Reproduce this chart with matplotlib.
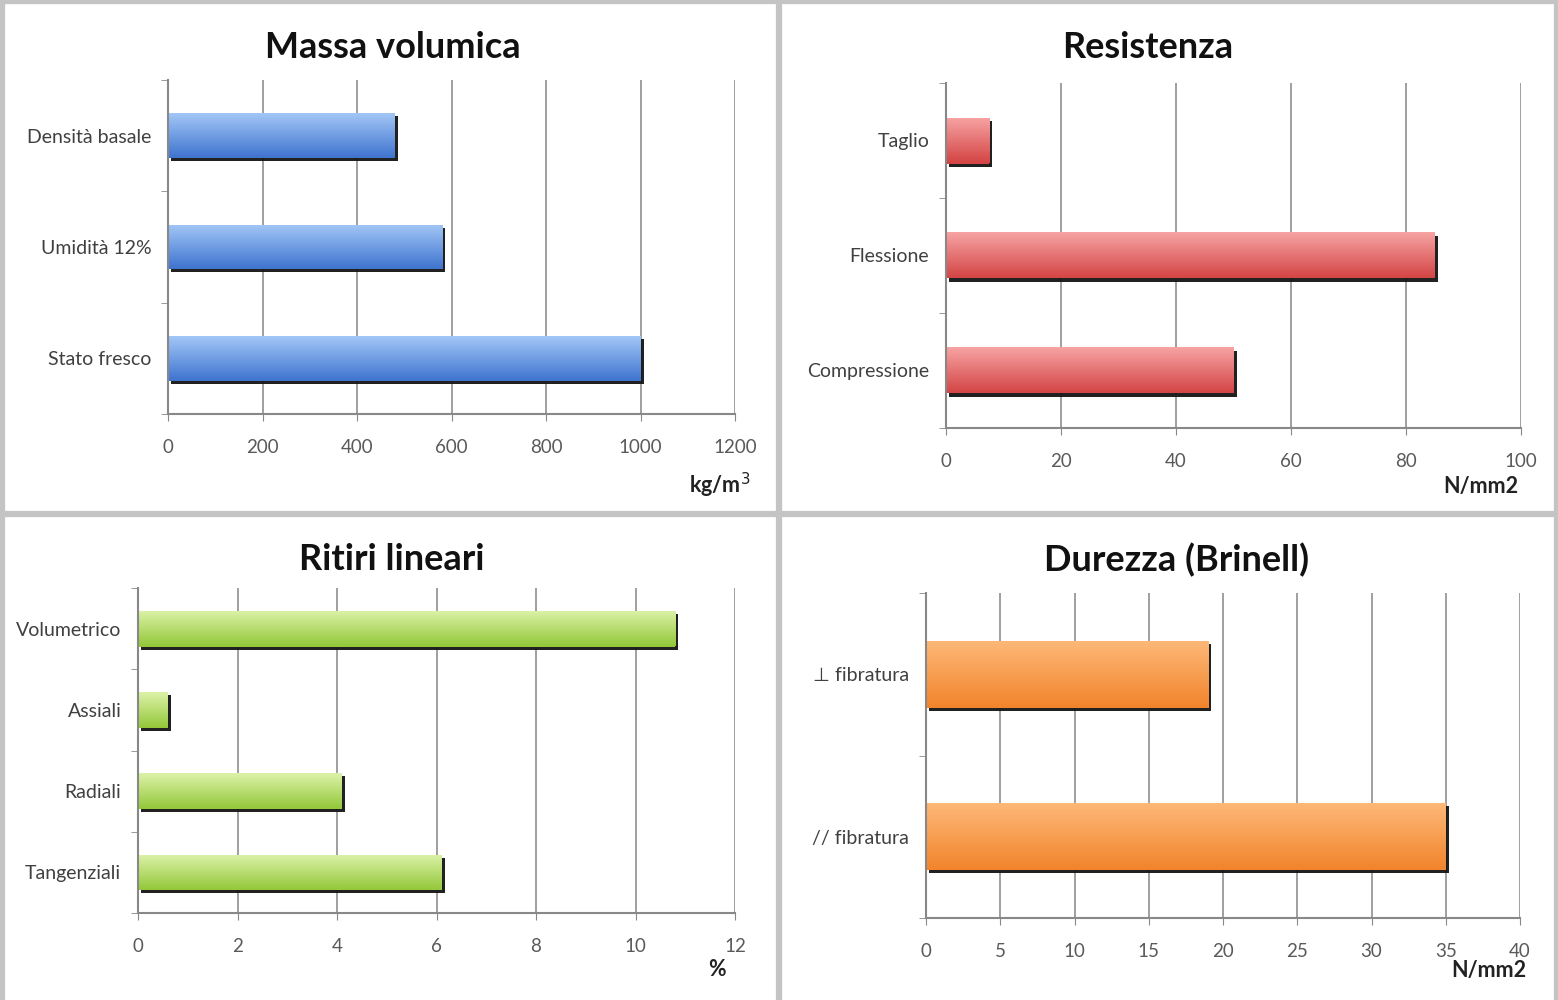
import matplotlib.pyplot as plt
import matplotlib.patheffects as pe
from matplotlib.colors import LinearSegmentedColormap
from matplotlib.lines import Line2D
import numpy as np

plt.rcParams['font.family'] = ['Lato', 'DejaVu Sans']

# Massa volumica (kg/m3)
massa_cat = ['Densità basale', 'Umidità 12%', 'Stato fresco']
massa_val = [480, 580, 1000]
massa_ticks = [0, 200, 400, 600, 800, 1000, 1200]

# Resistenza (N/mm2)
resist_cat = ['Taglio', 'Flessione', 'Compressione']
resist_val = [7.5, 85, 50]
resist_ticks = [0, 20, 40, 60, 80, 100]

# Ritiri lineari (%)
ritiri_cat = ['Volumetrico', 'Assiali', 'Radiali', 'Tangenziali']
ritiri_val = [10.8, 0.6, 4.1, 6.1]
ritiri_ticks = [0, 2, 4, 6, 8, 10, 12]

# Durezza Brinell (N/mm2)
durezza_cat = ['⊥ fibratura', '// fibratura']
durezza_val = [19, 35]
durezza_ticks = [0, 5, 10, 15, 20, 25, 30, 35, 40]

W, H = 1558, 1000
fig = plt.figure(figsize=(W / 100, H / 100), dpi=100)


def box(x0, y0, x1, y1):
    # pixel box (top-left origin) -> axes rect
    return [x0 / W, 1 - y1 / H, (x1 - x0) / W, (y1 - y0) / H]


def panel(rect, cats, vals, ticks, dark, light, height, title, title_xy, unit, unit_xy):
    ax = fig.add_axes(rect)
    n = len(cats)
    ypos = np.arange(n)[::-1]
    cmap = LinearSegmentedColormap.from_list('grad', [dark, light])
    bars = ax.barh(ypos, vals, height=height, color=dark, zorder=2,
                   path_effects=[pe.SimplePatchShadow(offset=(2.2, -2.2), shadow_rgbFace='#151515', alpha=0.95),
                                 pe.Normal()])
    grad = np.linspace(0, 1, 64).reshape(-1, 1)
    for b, y, v in zip(bars, ypos, vals):
        im = ax.imshow(grad, cmap=cmap, origin='lower', aspect='auto', zorder=2.5,
                       extent=(0, v, y - height / 2, y + height / 2))
        im.set_clip_path(b)

    ax.set_xlim(ticks[0], ticks[-1])
    ax.set_ylim(-0.5, n - 0.5)
    ax.set_xticks(ticks)
    ax.set_xticklabels([str(t) for t in ticks], fontsize=13.5, color='#5a5a5a')
    ax.set_yticks(ypos)
    ax.set_yticklabels(cats, fontsize=14, color='#404040')
    ax.set_yticks(np.arange(n + 1) - 0.5, minor=True)
    ax.tick_params(axis='y', which='major', length=0, pad=12)
    ax.tick_params(axis='y', which='minor', length=5, color='#888888')
    ax.tick_params(axis='x', length=5, color='#888888', pad=13)
    ax.grid(axis='x', color='#8f8f8f', linewidth=1.2)
    ax.set_axisbelow(True)
    for s in ['top', 'right']:
        ax.spines[s].set_visible(False)
    for s in ['left', 'bottom']:
        ax.spines[s].set_color('#888888')
        ax.spines[s].set_linewidth(1.5)

    fig.text(title_xy[0] / W, 1 - title_xy[1] / H, title, fontsize=26, fontweight='bold',
             ha='center', va='center', color='#111111')
    fig.text(unit_xy[0] / W, 1 - unit_xy[1] / H, unit, fontsize=15.5, fontweight='bold',
             ha='right', va='center', color='#222222')
    return ax


panel(box(168, 80, 735, 414), massa_cat, massa_val, massa_ticks,
      '#3f74cf', '#a2c6f6', 0.4, 'Massa volumica', (393, 47), 'kg/m$^3$', (750, 485))
panel(box(946, 83, 1521, 428), resist_cat, resist_val, resist_ticks,
      '#d44545', '#f7a3a3', 0.4, 'Resistenza', (1148, 47), 'N/mm2', (1518, 486))
panel(box(138, 588, 735, 913), ritiri_cat, ritiri_val, ritiri_ticks,
      '#94c83a', '#dcf2a8', 0.44, 'Ritiri lineari', (392, 560), '%', (726, 970))
panel(box(926, 593, 1520, 918), durezza_cat, durezza_val, durezza_ticks,
      '#f2842c', '#fdb877', 0.41, 'Durezza (Brinell)', (1177, 560), 'N/mm2', (1526, 970))

# gray frames separating the four panels
frame = dict(color='#c4c4c4', linewidth=4.5, solid_capstyle='butt')
fig.add_artist(Line2D([0, 1], [1 - 514 / H, 1 - 514 / H], transform=fig.transFigure, **frame))
fig.add_artist(Line2D([779 / W, 779 / W], [0, 1], transform=fig.transFigure, **frame))
fig.add_artist(Line2D([0, 1], [1 - 1 / H, 1 - 1 / H], transform=fig.transFigure, **frame))
fig.add_artist(Line2D([1.5 / W, 1.5 / W], [0, 1], transform=fig.transFigure, **frame))
fig.add_artist(Line2D([1 - 1.5 / W, 1 - 1.5 / W], [0, 1], transform=fig.transFigure, **frame))

fig.savefig('out.png', dpi=100, facecolor='white')
